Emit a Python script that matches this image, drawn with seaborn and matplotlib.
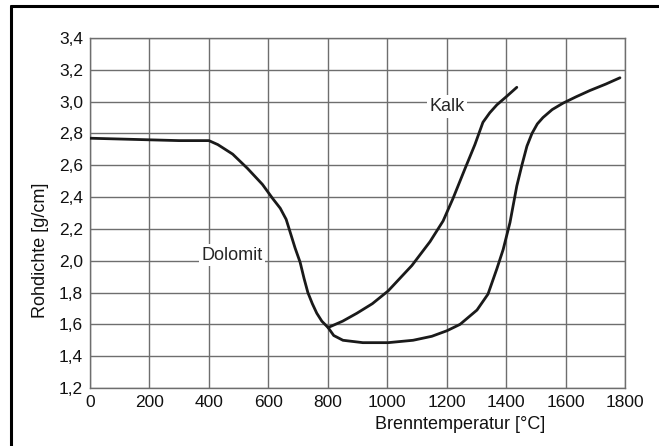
import matplotlib
matplotlib.use("Agg")
import matplotlib.pyplot as plt
import seaborn as sns
import pandas as pd
from matplotlib.lines import Line2D
from matplotlib.ticker import FuncFormatter

dolomit_x = [0, 100, 200, 300, 400, 430, 480, 530, 580, 615, 640, 660, 675, 690, 707, 720,
             733, 748, 763, 780, 801, 820, 851, 918, 1003, 1087, 1150, 1201, 1245, 1302,
             1339, 1369, 1390, 1413, 1436, 1453, 1470, 1487, 1505, 1524, 1555, 1591, 1635,
             1682, 1735, 1783]
dolomit_y = [2.77, 2.765, 2.76, 2.755, 2.755, 2.73, 2.67, 2.58, 2.48, 2.39, 2.33, 2.26,
             2.17, 2.08, 1.99, 1.89, 1.80, 1.73, 1.67, 1.62, 1.58, 1.53, 1.50, 1.485, 1.485,
             1.50, 1.525, 1.56, 1.60, 1.69, 1.79, 1.95, 2.07, 2.24, 2.47, 2.60, 2.72, 2.80,
             2.86, 2.90, 2.95, 2.99, 3.03, 3.07, 3.11, 3.15]
kalk_x = [801, 850, 898, 950, 1003, 1083, 1144, 1188, 1221, 1262, 1295, 1322, 1345, 1369, 1400, 1436]
kalk_y = [1.58, 1.62, 1.67, 1.73, 1.81, 1.97, 2.12, 2.25, 2.39, 2.58, 2.73, 2.87, 2.93, 2.98, 3.03, 3.09]
x_ticks = [0, 200, 400, 600, 800, 1000, 1200, 1400, 1600, 1800]
y_ticks = [1.2, 1.4, 1.6, 1.8, 2.0, 2.2, 2.4, 2.6, 2.8, 3.0, 3.2, 3.4]

sns.set_style("white")
plt.rcParams["font.family"] = ["Liberation Sans", "DejaVu Sans"]

W, H = 659, 446
fig = plt.figure(figsize=(W / 100, H / 100), dpi=100)
ax = fig.add_axes([90 / W, 1 - 388 / H, (625 - 90) / W, (388 - 38) / H])

df_d = pd.DataFrame({"T": dolomit_x, "rho": dolomit_y})
df_k = pd.DataFrame({"T": kalk_x, "rho": kalk_y})
sns.lineplot(data=df_d, x="T", y="rho", sort=False, ax=ax, color="#1a1a1a", lw=2.0, zorder=3)
sns.lineplot(data=df_k, x="T", y="rho", sort=False, ax=ax, color="#1a1a1a", lw=2.0, zorder=3)

ax.set_xlim(0, 1800)
ax.set_ylim(1.2, 3.4)
ax.set_xticks(x_ticks)
ax.set_yticks(y_ticks)
ax.yaxis.set_major_formatter(FuncFormatter(lambda v, p: f"{v:.1f}".replace(".", ",")))
ax.grid(True, color="#6e6e6e", lw=1.0)
for s in ax.spines.values():
    s.set_color("#6e6e6e")
    s.set_linewidth(1.0)
ax.tick_params(axis="y", length=4, color="#6e6e6e", labelsize=12.5, pad=1)
ax.tick_params(axis="x", length=0, labelsize=12.5, pad=5)
for lab in ax.get_xticklabels() + ax.get_yticklabels():
    lab.set_color("#111111")

ax.set_xlabel("Brenntemperatur [°C]", fontsize=13, color="#111111")
ax.xaxis.set_label_coords(0.692, -0.103)
ax.xaxis.label.set_va("center")
ax.set_ylabel("Rohdichte [g/cm]", fontsize=13, color="#111111")
ax.yaxis.set_label_coords(-0.093, 0.394)
ax.yaxis.label.set_va("center")

bb = dict(facecolor="white", edgecolor="none", pad=2)
ax.text(478, 2.035, "Dolomit", ha="center", va="center", fontsize=13, bbox=bb, zorder=4)
ax.text(1201, 2.97, "Kalk", ha="center", va="center", fontsize=13, bbox=bb, zorder=4)

# figure frame (left and top edges)
fig.add_artist(Line2D([11 / W, 11 / W], [0, 1 - 6 / H], transform=fig.transFigure,
                      color="black", lw=2.2))
fig.add_artist(Line2D([11 / W, 1], [1 - 6 / H, 1 - 6 / H], transform=fig.transFigure,
                      color="black", lw=2.2))

fig.savefig("out.png", dpi=100)
